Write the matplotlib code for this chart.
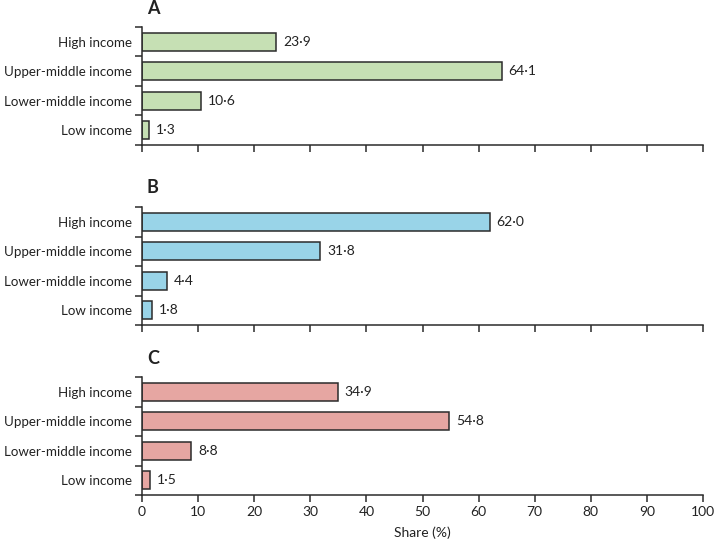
import matplotlib
matplotlib.use("Agg")
import matplotlib.pyplot as plt
from matplotlib.ticker import FixedLocator

plt.rcParams['font.family'] = ['Lato', 'DejaVu Sans']

categories = ["High income", "Upper-middle income", "Lower-middle income", "Low income"]
panel_a = [23.9, 64.1, 10.6, 1.3]
panel_b = [62.0, 31.8, 4.4, 1.8]
panel_c = [34.9, 54.8, 8.8, 1.5]
panel_letters = ["A", "B", "C"]
colors = ["#c6e0b4", "#99d4e8", "#e6a6a2"]
x_ticks = [0, 10, 20, 30, 40, 50, 60, 70, 80, 90, 100]
x_label = "Share (%)"

W, H = 714, 554
fig = plt.figure(figsize=(W / 100, H / 100), dpi=100)

left = 142 / W
width = (703 - 142) / W
tops = [27, 207, 377]
ph = 118

edge = "#2b2b2b"
for i, (vals, letter, col) in enumerate(zip([panel_a, panel_b, panel_c], panel_letters, colors)):
    top = tops[i]
    ax = fig.add_axes([left, 1 - (top + ph) / H, width, ph / H])
    n = len(categories)
    ypos = list(range(n))[::-1]
    ax.barh(ypos, vals, height=0.6, color=col, edgecolor=edge, linewidth=1.1)
    for y, v in zip(ypos, vals):
        ax.text(v + 1.2, y, f"{v:.1f}".replace(".", "\u00b7"), va="center", ha="left",
                fontsize=10, color="#222222")
    ax.set_xlim(0, 100)
    ax.set_ylim(-0.5, n - 0.5)
    ax.set_yticks(ypos)
    ax.set_yticklabels(categories, fontsize=9.6, color="#222222")
    ax.yaxis.set_minor_locator(FixedLocator([k - 0.5 for k in range(n + 1)]))
    ax.tick_params(axis="y", which="major", length=0, pad=7.5)
    ax.tick_params(axis="y", which="minor", length=5, width=1.1, color=edge)
    ax.set_xticks(x_ticks)
    ax.tick_params(axis="x", length=5, width=1.1, color=edge, labelsize=10, labelcolor="#222222", pad=3)
    if i < 2:
        ax.set_xticklabels([])
    else:
        ax.set_xlabel(x_label, fontsize=10, color="#222222", labelpad=6)
    for s in ["top", "right"]:
        ax.spines[s].set_visible(False)
    for s in ["left", "bottom"]:
        ax.spines[s].set_linewidth(1.1)
        ax.spines[s].set_color(edge)
    fig.text((147) / W, 1 - (top - 19) / H, letter, fontsize=13, fontweight="bold",
             ha="left", va="center", color="#222222")

fig.savefig("out.png", dpi=100)
